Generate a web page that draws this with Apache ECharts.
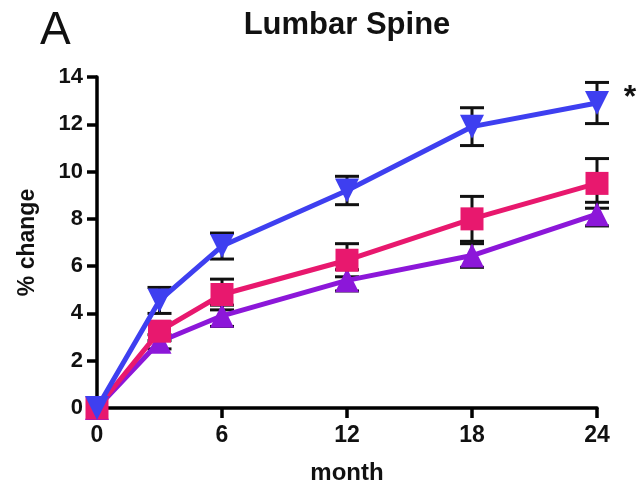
<!DOCTYPE html>
<html><head><meta charset="utf-8">
<script src="https://cdn.jsdelivr.net/npm/echarts@6/dist/echarts.min.js"></script>
<style>html,body{margin:0;padding:0;background:#fff}#c{width:641px;height:490px}</style>
</head><body><div id="c"></div>
<script>
const months = [0, 3, 6, 12, 18, 24];
const blueMean = [0, 4.55, 6.85, 9.2, 11.9, 12.9];
const blueErr  = [0, 0.55, 0.55, 0.6, 0.8, 0.87];
const pinkMean = [0, 3.25, 4.8, 6.25, 8.0, 9.5];
const pinkErr  = [0, 0.4, 0.65, 0.7, 0.95, 1.05];
const purpMean = [0, 2.8, 3.9, 5.4, 6.45, 8.2];
const purpErr  = [0, 0.3, 0.45, 0.45, 0.5, 0.5];
const xTicks = [0, 6, 12, 18, 24];
const yTicks = [0, 2, 4, 6, 8, 10, 12, 14];

const C_BLUE = '#3e3ff0', C_PINK = '#e8186e', C_PURP = '#8c17d9';
const font = 'Liberation Sans, Arial, sans-serif';

function pairs(m){ return months.map((x,i)=>[x,m[i]]); }
function errData(m,e){ return months.map((x,i)=>[x,m[i]-e[i],m[i]+e[i]]); }
function errSeries(m,e){
  return {
    type:'custom', data: errData(m,e), clip:false, z:1,
    renderItem: function(params, api){
      const x = api.value(0), lo = api.value(1), hi = api.value(2);
      if (hi - lo <= 0) return null;
      const p1 = api.coord([x, lo]), p2 = api.coord([x, hi]);
      const w = 12;
      const st = {stroke:'#111', lineWidth:3};
      return {type:'group', children:[
        {type:'line', shape:{x1:p1[0],y1:p1[1],x2:p2[0],y2:p2[1]}, style:st},
        {type:'line', shape:{x1:p1[0]-w,y1:p1[1],x2:p1[0]+w,y2:p1[1]}, style:st},
        {type:'line', shape:{x1:p2[0]-w,y1:p2[1],x2:p2[0]+w,y2:p2[1]}, style:st}
      ]};
    }
  };
}
function lineSeries(m, color, symbol, rot, size, z){
  return {type:'line', data: pairs(m), clip:false, z:z,
    lineStyle:{color:color, width:5}, itemStyle:{color:color, opacity:1},
    symbol:symbol, symbolRotate:rot, symbolSize:size, showSymbol:true, animation:false};
}

const chart = echarts.init(document.getElementById('c'));
chart.setOption({
  animation:false,
  backgroundColor:'#fff',
  grid:{left:97, right:44, top:77, bottom:78},
  xAxis:{type:'value', min:0, max:24, interval:6,
    name:'month', nameLocation:'middle', nameGap:53,
    nameTextStyle:{fontFamily:font, fontWeight:'bold', fontSize:24, color:'#111'},
    axisLine:{lineStyle:{color:'#000', width:3.5}},
    axisTick:{show:true, length:10, lineStyle:{color:'#000', width:3.5}},
    axisLabel:{fontFamily:font, fontWeight:'bold', fontSize:23, color:'#111', margin:16,
      formatter: v => xTicks.includes(v) ? String(v) : ''},
    splitLine:{show:false}},
  yAxis:{type:'value', min:0, max:14, interval:2,
    name:'% change', nameLocation:'middle', nameGap:58, nameRotate:90,
    nameTextStyle:{fontFamily:font, fontWeight:'bold', fontSize:23, color:'#111'},
    axisLine:{show:true, lineStyle:{color:'#000', width:3.5}},
    axisTick:{show:true, length:10, lineStyle:{color:'#000', width:3.5}},
    axisLabel:{fontFamily:font, fontWeight:'bold', fontSize:22, color:'#111', margin:14,
      formatter: v => yTicks.includes(v) ? String(v) : ''},
    splitLine:{show:false}},
  graphic:[
    {type:'text', x:347, y:25, style:{text:'Lumbar Spine', font:'bold 31px '+font, fill:'#111', textAlign:'center', textVerticalAlign:'middle'}},
    {type:'text', x:40, y:31, style:{text:'A', font:'46px '+font, fill:'#111', textAlign:'left', textVerticalAlign:'middle'}},
    {type:'text', x:630, y:98, style:{text:'*', font:'bold 32px '+font, fill:'#111', textAlign:'center', textVerticalAlign:'middle'}}
  ],
  series:[
    errSeries(purpMean, purpErr),
    errSeries(pinkMean, pinkErr),
    errSeries(blueMean, blueErr),
    lineSeries(purpMean, C_PURP, 'triangle', 0, 24, 3),
    lineSeries(pinkMean, C_PINK, 'rect', 0, 23, 4),
    lineSeries(blueMean, C_BLUE, 'triangle', 180, 24, 5)
  ]
});
</script></body></html>
